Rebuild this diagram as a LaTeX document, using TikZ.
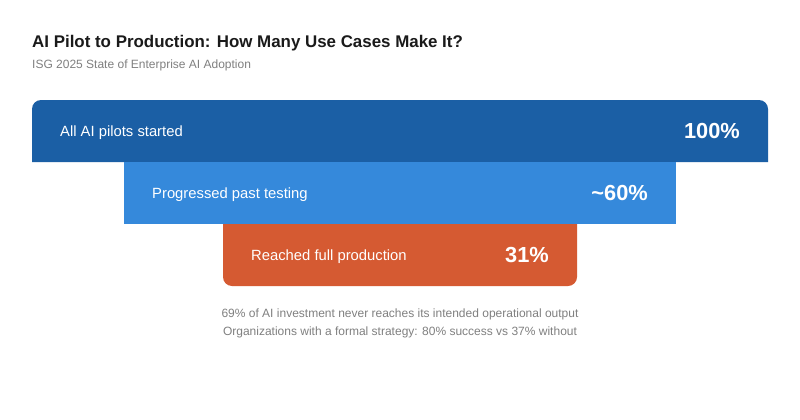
\documentclass[tikz,border=0pt]{standalone}
\usepackage{fontspec}
\setmainfont{Liberation Sans}
\definecolor{barA}{HTML}{1B5FA5}
\definecolor{barB}{HTML}{3589DB}
\definecolor{barC}{HTML}{D55A32}
\definecolor{subgray}{HTML}{808080}
\definecolor{titlec}{HTML}{1A1A1A}
\begin{document}
\begin{tikzpicture}[x=1pt,y=1pt,
  lbl/.style={anchor=base west,text=white,font=\fontsize{14.8}{17}\selectfont,inner sep=0pt},
  val/.style={anchor=base east,text=white,font=\bfseries\fontsize{21.8}{25}\selectfont,inner sep=0pt},
  foot/.style={text=subgray,font=\fontsize{12}{14}\selectfont,inner sep=0pt}]
\useasboundingbox[fill=white] (0,0) rectangle (800,-420);
\node[anchor=base west,inner sep=0pt,text=titlec,font=\bfseries\fontsize{16.9}{19}\selectfont] (title) at (32,-48) {AI Pilot to Production: How Many Use Cases Make It?};
\node[anchor=base west,inner sep=0pt,text=subgray,font=\fontsize{12}{14}\selectfont] (sub) at (32,-68) {ISG 2025 State of Enterprise AI Adoption};
% bars
\fill[barA] (32,-162) [rounded corners=9] -- (32,-100) -- (768,-100) [sharp corners] -- (768,-162) -- cycle;
\fill[barB] (124,-162) rectangle (676,-224);
\fill[barC] (223,-224) [rounded corners=9] -- (223,-286) -- (577,-286) [sharp corners] -- (577,-224) -- cycle;
\node[lbl] (l1) at (60,-136.5) {All AI pilots started};
\node[val] (v1) at (740,-138.5) {100\%};
\node[lbl] (l2) at (152,-198.5) {Progressed past testing};
\node[val] (v2) at (648,-200.5) {\textasciitilde60\%};
\node[lbl] (l3) at (251,-260.5) {Reached full production};
\node[val] (v3) at (549,-262.5) {31\%};
\node[foot] (f1) at (400,-314) {69\% of AI investment never reaches its intended operational output};
\node[foot] (f2) at (400,-332) {Organizations with a formal strategy: 80\% success vs 37\% without};
\end{tikzpicture}
\end{document}
